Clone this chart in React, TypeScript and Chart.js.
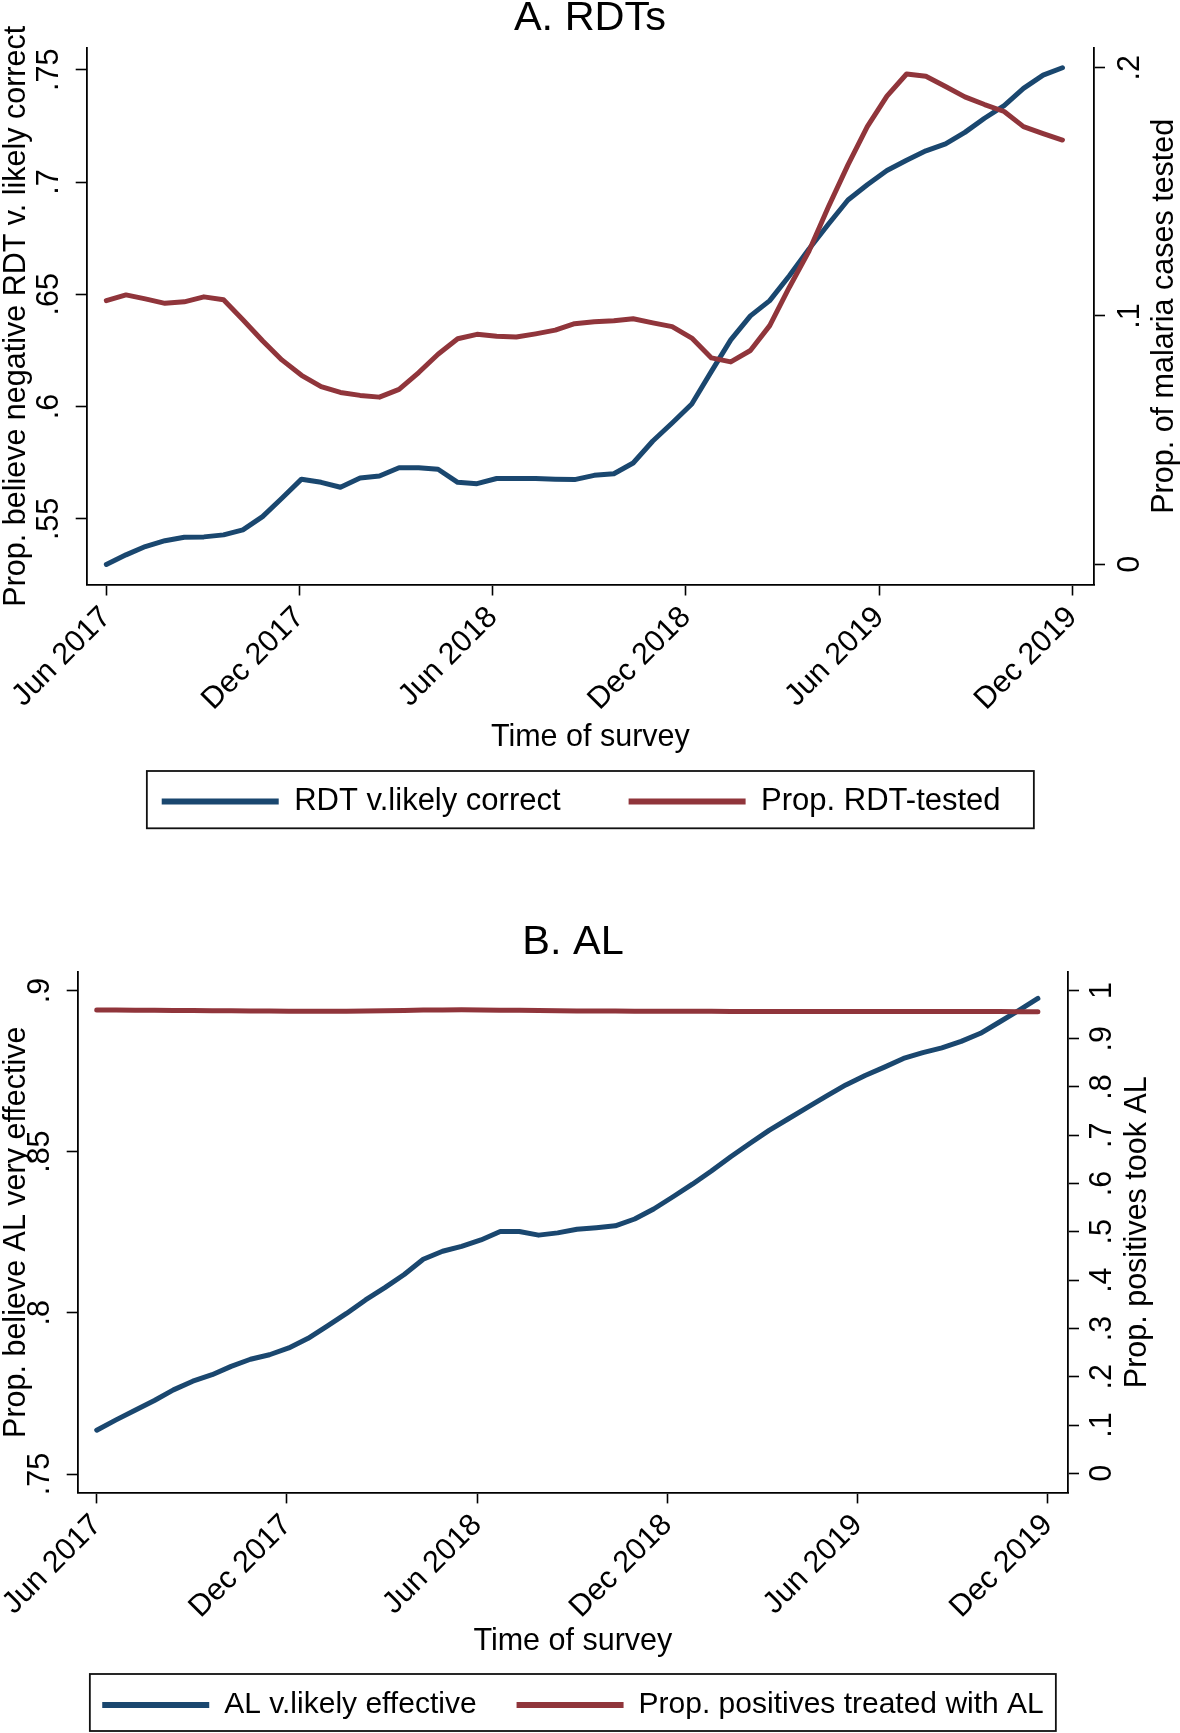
import React, { useEffect, useRef } from 'react';
import { Chart, registerables } from 'chart.js';

Chart.register(...registerables);

const FONT = '"Liberation Sans", Arial, Helvetica, sans-serif';
const NAVY = '#1a476f';
const MAROON = '#90353b';
const INK = '#000000';

// Survey time, in months since June 2017
const SURVEY_MONTHS = [
  0, 0.61, 1.21, 1.82, 2.42, 3.03, 3.64, 4.24, 4.85, 5.45,
  6.06, 6.67, 7.27, 7.88, 8.48, 9.09, 9.7, 10.3, 10.91, 11.51,
  12.12, 12.73, 13.33, 13.94, 14.54, 15.15, 15.76, 16.36, 16.97, 17.57,
  18.18, 18.79, 19.39, 20.0, 20.6, 21.21, 21.82, 22.42, 23.03, 23.63,
  24.24, 24.85, 25.45, 26.06, 26.66, 27.27, 27.88, 28.48, 29.09, 29.69,
];
const X_TICK_VALUES = [0, 6, 12, 18, 24, 30];
const X_TICK_LABELS = ['Jun 2017', 'Dec 2017', 'Jun 2018', 'Dec 2018', 'Jun 2019', 'Dec 2019'];

// Panel A. RDTs
const RDT_CORRECT = [
  0.5297, 0.534, 0.5377, 0.5403, 0.5418, 0.542, 0.5429, 0.5451, 0.551, 0.5592,
  0.5677, 0.5663, 0.5641, 0.5682, 0.5691, 0.5728, 0.5728, 0.5721, 0.5663, 0.5657,
  0.568, 0.568, 0.568, 0.5677, 0.5675, 0.5694, 0.5701, 0.5749, 0.5847, 0.5927,
  0.6012, 0.6157, 0.6297, 0.6404, 0.6472, 0.6583, 0.6702, 0.6812, 0.692, 0.6988,
  0.7051, 0.7097, 0.7139, 0.717, 0.7221, 0.7284, 0.734, 0.7417, 0.7476, 0.7509,
];
const RDT_TESTED = [
  0.1062, 0.1085, 0.1069, 0.1051, 0.1057, 0.1077, 0.1065, 0.0985, 0.09, 0.0823,
  0.0761, 0.0715, 0.0692, 0.068, 0.0673, 0.0704, 0.0772, 0.0846, 0.0908, 0.0926,
  0.0918, 0.0915, 0.0928, 0.0943, 0.0969, 0.0977, 0.0981, 0.0989, 0.0972, 0.0957,
  0.0911, 0.0831, 0.0815, 0.0861, 0.0961, 0.1116, 0.1262, 0.1439, 0.1609, 0.1763,
  0.1886, 0.1975, 0.1966, 0.1925, 0.1883, 0.1852, 0.1824, 0.1763, 0.1735, 0.1709,
];
const RDT_LEFT_TICKS = [0.55, 0.6, 0.65, 0.7, 0.75];
const RDT_RIGHT_TICKS = [0, 0.1, 0.2];

// Panel B. AL
const AL_EFFECTIVE = [
  0.7636, 0.7668, 0.7698, 0.7728, 0.7761, 0.7788, 0.7808, 0.7834, 0.7856, 0.787,
  0.7891, 0.7921, 0.7959, 0.7998, 0.804, 0.8078, 0.8119, 0.8166, 0.8191, 0.8206,
  0.8226, 0.8252, 0.8252, 0.8241, 0.8248, 0.8259, 0.8264, 0.827, 0.8291, 0.8322,
  0.836, 0.8399, 0.844, 0.8484, 0.8525, 0.8566, 0.8602, 0.8637, 0.8673, 0.8707,
  0.8736, 0.8762, 0.8789, 0.8807, 0.8822, 0.8842, 0.8867, 0.8902, 0.8938, 0.8975,
];
const AL_TREATED = [
  0.9595, 0.9593, 0.959, 0.9588, 0.9586, 0.9583, 0.958, 0.9577, 0.9574, 0.9572,
  0.957, 0.9569, 0.9568, 0.957, 0.9574, 0.958, 0.9586, 0.9592, 0.9596, 0.9597,
  0.9595, 0.9591, 0.9587, 0.9583, 0.9579, 0.9576, 0.9574, 0.9572, 0.957, 0.9568,
  0.9567, 0.9566, 0.9566, 0.9565, 0.9565, 0.9565, 0.9565, 0.9564, 0.9564, 0.9564,
  0.9563, 0.9563, 0.9563, 0.9562, 0.9562, 0.9562, 0.9561, 0.9561, 0.956, 0.956,
];
const AL_LEFT_TICKS = [0.75, 0.8, 0.85, 0.9];
const AL_RIGHT_TICKS = [0, 0.1, 0.2, 0.3, 0.4, 0.5, 0.6, 0.7, 0.8, 0.9, 1];

const stataLabel = (v: number) => {
  const s = String(Math.round(v * 100) / 100);
  return s.startsWith('0.') ? s.slice(1) : s;
};

type PanelSpec = {
  canvasTop: number;
  canvasHeight: number;
  title: string;
  leftTitle: string;
  rightTitle: string;
  leftLabel: string;
  rightLabel: string;
  leftSeries: number[];
  rightSeries: number[];
  leftTicks: number[];
  rightTicks: number[];
  leftMin: number;
  leftMax: number;
  rightMin: number;
  rightMax: number;
  xMin: number;
  xMax: number;
  padRight: number;
  padBottom: number;
  titlePadTop: number;
  titlePadBottom: number;
  legendFont: number;
  legendBox: number;
  legendGap: number;
  legendShift: number;
  xAxisHeight: number;
  xTitlePadBottom: number;
  leftWidth: number;
  rightWidth: number;
  leftTickPad: number;
  rightTickPad: number;
  rightTitleOffset: number;
  frameWidth: number;
  frameAbove: number;
  frameBelow: number;
};

const PANEL_A: PanelSpec = {
  canvasTop: 0,
  canvasHeight: 840,
  title: 'A. RDTs',
  leftTitle: 'Prop. believe negative RDT v. likely correct',
  rightTitle: 'Prop. of malaria cases tested',
  leftLabel: 'RDT v.likely correct',
  rightLabel: 'Prop. RDT-tested',
  leftSeries: RDT_CORRECT,
  rightSeries: RDT_TESTED,
  leftTicks: RDT_LEFT_TICKS,
  rightTicks: RDT_RIGHT_TICKS,
  leftMin: 0.5208,
  leftMax: 0.7597,
  rightMin: -0.0082,
  rightMax: 0.208,
  xMin: -0.61,
  xMax: 30.67,
  padRight: 0,
  padBottom: 13,
  titlePadTop: 0,
  titlePadBottom: 10.6,
  legendFont: 31,
  legendBox: 117,
  legendGap: 68,
  legendShift: -8.85,
  xAxisHeight: 133.5,
  xTitlePadBottom: -38.3,
  leftWidth: 86.7,
  rightWidth: 86,
  leftTickPad: 4.5,
  rightTickPad: 13,
  rightTitleOffset: 70.5,
  frameWidth: 887,
  frameAbove: 30.5,
  frameBelow: 26.8,
};

const PANEL_B: PanelSpec = {
  canvasTop: 900,
  canvasHeight: 833,
  title: 'B. AL',
  leftTitle: 'Prop. believe AL very effective',
  rightTitle: 'Prop. positives took AL',
  leftLabel: 'AL v.likely effective',
  rightLabel: 'Prop. positives treated with AL',
  leftSeries: AL_EFFECTIVE,
  rightSeries: AL_TREATED,
  leftTicks: AL_LEFT_TICKS,
  rightTicks: AL_RIGHT_TICKS,
  leftMin: 0.7443,
  leftMax: 0.9057,
  rightMin: -0.0395,
  rightMax: 1.038,
  xMin: -0.6,
  xMax: 30.64,
  padRight: 34,
  padBottom: 3,
  titlePadTop: 24.35,
  titlePadBottom: 10.35,
  legendFont: 30,
  legendBox: 107,
  legendGap: 40,
  legendShift: 0,
  xAxisHeight: 157.6,
  xTitlePadBottom: -9.5,
  leftWidth: 77.7,
  rightWidth: 78,
  leftTickPad: 5.3,
  rightTickPad: 10.5,
  rightTitleOffset: 69.5,
  frameWidth: 966,
  frameAbove: 31,
  frameBelow: 26,
};

const legendShift = {
  id: 'legendShift',
  afterLayout(chart: any, _args: any, opts: any) {
    const lg = chart.legend;
    if (lg && opts && opts.dx) {
      lg.left += opts.dx;
      lg.right += opts.dx;
    }
  },
};

const legendFrame = {
  id: 'legendFrame',
  afterDraw(chart: any, _args: any, opts: any) {
    const lg = chart.legend;
    if (!lg || !lg.legendHitBoxes || !lg.legendHitBoxes.length) return;
    const hb = lg.legendHitBoxes[0];
    const cy = hb.top + hb.height / 2;
    const cx = (chart.chartArea.left + chart.chartArea.right) / 2;
    const ctx = chart.ctx;
    ctx.save();
    ctx.strokeStyle = '#111111';
    ctx.lineWidth = 1.8;
    ctx.strokeRect(cx - opts.width / 2, cy - opts.above, opts.width, opts.above + opts.below);
    ctx.restore();
  },
};

const rightTitle = {
  id: 'rightTitle',
  afterDraw(chart: any, _args: any, opts: any) {
    const sc = chart.scales.y1;
    const { ctx, chartArea } = chart;
    ctx.save();
    ctx.translate(sc.left + opts.offset, (chartArea.top + chartArea.bottom) / 2);
    ctx.rotate(-Math.PI / 2);
    ctx.font = `${opts.size}px ${FONT}`;
    ctx.fillStyle = INK;
    ctx.textAlign = 'center';
    ctx.textBaseline = 'middle';
    ctx.fillText(opts.text, 0, 0);
    ctx.restore();
  },
};

function buildConfig(s: PanelSpec): any {
  const tickFont = { family: FONT, size: 30.5 };
  const grid = {
    display: true,
    drawOnChartArea: false,
    drawTicks: true,
    tickLength: 11,
    tickColor: INK,
    tickWidth: 1.6,
    color: INK,
  };
  const border = { display: true, color: INK, width: 1.8 };
  const lineStyle = {
    borderWidth: 5,
    pointRadius: 0,
    tension: 0,
    borderJoinStyle: 'round',
    borderCapStyle: 'round',
  };
  return {
    type: 'line',
    data: {
      datasets: [
        {
          label: s.leftLabel,
          data: SURVEY_MONTHS.map((m, i) => ({ x: m, y: s.leftSeries[i] })),
          borderColor: NAVY,
          backgroundColor: NAVY,
          yAxisID: 'y',
          order: 1,
          ...lineStyle,
        },
        {
          label: s.rightLabel,
          data: SURVEY_MONTHS.map((m, i) => ({ x: m, y: s.rightSeries[i] })),
          borderColor: MAROON,
          backgroundColor: MAROON,
          yAxisID: 'y1',
          order: 0,
          ...lineStyle,
        },
      ],
    },
    plugins: [legendShift, legendFrame, rightTitle],
    options: {
      responsive: false,
      animation: false,
      devicePixelRatio: 1,
      events: [],
      layout: { padding: { left: 0, top: 0, right: s.padRight, bottom: s.padBottom } },
      plugins: {
        title: {
          display: true,
          text: s.title,
          color: INK,
          font: { family: FONT, size: 41.5, weight: 'normal', lineHeight: 0.9 },
          padding: { top: s.titlePadTop, bottom: s.titlePadBottom },
        },
        legend: {
          display: true,
          position: 'bottom',
          labels: {
            color: INK,
            font: { family: FONT, size: s.legendFont },
            boxWidth: s.legendBox,
            boxHeight: 6,
            padding: s.legendGap,
            generateLabels: (chart: any) =>
              chart.data.datasets.map((ds: any, i: number) => ({
                text: ds.label,
                fillStyle: ds.borderColor,
                strokeStyle: ds.borderColor,
                lineWidth: 0,
                hidden: false,
                datasetIndex: i,
                fontColor: INK,
              })),
          },
        },
        tooltip: { enabled: false },
        legendShift: { dx: s.legendShift },
        legendFrame: { width: s.frameWidth, above: s.frameAbove, below: s.frameBelow },
        rightTitle: { text: s.rightTitle, offset: s.rightTitleOffset, size: 30.5 },
      },
      scales: {
        x: {
          type: 'linear',
          position: 'bottom',
          min: s.xMin,
          max: s.xMax,
          bounds: 'data',
          afterBuildTicks: (ax: any) => {
            ax.ticks = X_TICK_VALUES.map((v) => ({ value: v }));
          },
          afterFit: (sc: any) => {
            sc.height = s.xAxisHeight;
          },
          ticks: {
            autoSkip: false,
            minRotation: 45,
            maxRotation: 45,
            padding: 4,
            color: INK,
            font: tickFont,
            callback: (v: number) => X_TICK_LABELS[X_TICK_VALUES.indexOf(v)] ?? '',
          },
          grid,
          border,
          title: {
            display: true,
            text: 'Time of survey',
            color: INK,
            font: { family: FONT, size: 30.5, lineHeight: 1.2 },
            padding: { top: 0, bottom: s.xTitlePadBottom },
          },
        },
        y: {
          type: 'linear',
          position: 'left',
          min: s.leftMin,
          max: s.leftMax,
          bounds: 'data',
          afterBuildTicks: (ax: any) => {
            ax.ticks = s.leftTicks.map((v) => ({ value: v }));
          },
          afterFit: (sc: any) => {
            sc.width = s.leftWidth;
          },
          ticks: {
            autoSkip: false,
            minRotation: 90,
            maxRotation: 90,
            crossAlign: 'center',
            padding: s.leftTickPad,
            color: INK,
            font: tickFont,
            callback: (v: number) => stataLabel(v),
          },
          grid,
          border,
          title: {
            display: true,
            text: s.leftTitle,
            color: INK,
            font: { family: FONT, size: 30.5, lineHeight: 1 },
            padding: { top: 1.5, bottom: 0 },
          },
        },
        y1: {
          type: 'linear',
          position: 'right',
          min: s.rightMin,
          max: s.rightMax,
          bounds: 'data',
          afterBuildTicks: (ax: any) => {
            ax.ticks = s.rightTicks.map((v) => ({ value: v }));
          },
          afterFit: (sc: any) => {
            sc.width = s.rightWidth;
          },
          ticks: {
            autoSkip: false,
            minRotation: 90,
            maxRotation: 90,
            crossAlign: 'center',
            padding: s.rightTickPad,
            color: INK,
            font: tickFont,
            callback: (v: number) => stataLabel(v),
          },
          grid,
          border,
          title: { display: false },
        },
      },
    },
  };
}

function Panel({ spec }: { spec: PanelSpec }) {
  const ref = useRef<HTMLCanvasElement | null>(null);
  useEffect(() => {
    if (!ref.current) return;
    const chart = new Chart(ref.current, buildConfig(spec));
    return () => chart.destroy();
  }, [spec]);
  return (
    <canvas
      ref={ref}
      width={1180}
      height={spec.canvasHeight}
      style={{ position: 'absolute', left: 0, top: spec.canvasTop, width: 1180, height: spec.canvasHeight }}
    />
  );
}

export default function App() {
  return (
    <div style={{ position: 'absolute', left: 0, top: 0, width: 1180, height: 1733, background: '#ffffff' }}>
      <Panel spec={PANEL_A} />
      <Panel spec={PANEL_B} />
    </div>
  );
}
